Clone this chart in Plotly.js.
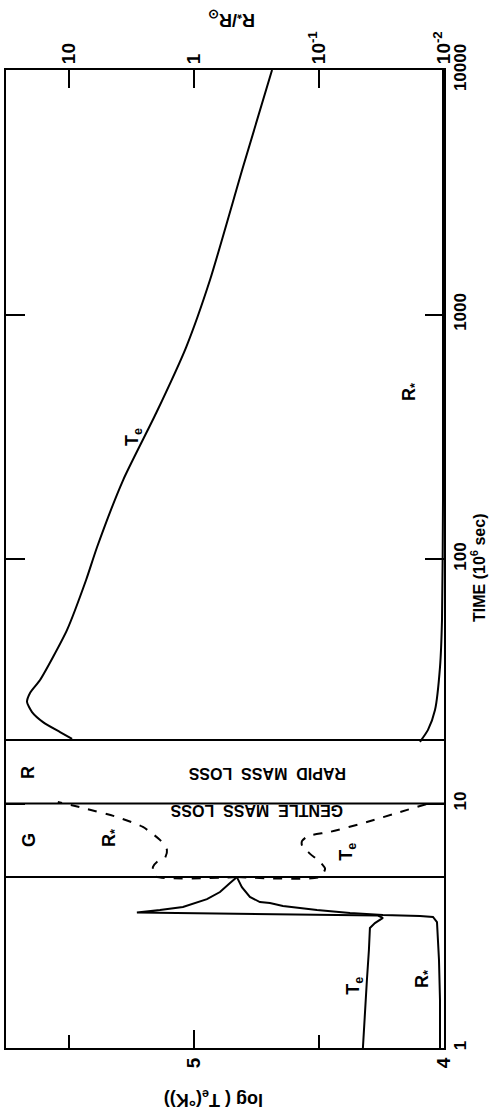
<!DOCTYPE html>
<html>
<head>
<meta charset="utf-8">
<script src="https://cdn.plot.ly/plotly-3.0.1.min.js"></script>
<style>
  html, body { margin: 0; padding: 0; background: #ffffff; }
  #chart { width: 490px; height: 1116px; }
</style>
</head>
<body>
<div id="chart"></div>
<script>
// ---- Data (log10 values) ----
// Early phase (solid): effective temperature
const teEarlyLogTime = [0.000, 0.155, 0.278, 0.401, 0.491, 0.511, 0.532, 0.542, 0.546, 0.550, 0.554, 0.564, 0.577, 0.609, 0.638, 0.675, 0.699];
const teEarlyLogTe   = [4.324, 4.316, 4.308, 4.300, 4.296, 4.276, 4.244, 4.264, 4.575, 4.895, 5.227, 5.135, 5.043, 4.947, 4.895, 4.855, 4.827];
// Early phase (solid): stellar radius
const rEarlyLogTime = [0.000, 0.196, 0.360, 0.483, 0.515, 0.536, 0.540, 0.544, 0.552, 0.564, 0.581, 0.593, 0.597, 0.618, 0.658, 0.699];
const rEarlyLogR    = [-1.968, -1.968, -1.960, -1.952, -1.944, -1.912, -1.808, -1.512, -1.249, -0.985, -0.713, -0.609, -0.529, -0.449, -0.385, -0.345];
// Gentle mass loss phase (dashed)
const teGentleLogTime = [0.699, 0.700, 0.733, 0.761, 0.794, 0.827, 0.847, 0.867, 0.884, 0.924, 0.965, 1.002];
const teGentleLogTe   = [4.827, 4.495, 4.475, 4.495, 4.535, 4.567, 4.567, 4.543, 4.455, 4.308, 4.176, 4.056];
const rGentleLogTime = [0.699, 0.703, 0.740, 0.761, 0.777, 0.810, 0.851, 0.904, 0.945, 0.982, 1.006];
const rGentleLogR    = [-0.345, 0.310, 0.326, 0.294, 0.230, 0.214, 0.270, 0.406, 0.614, 0.886, 1.086];
// Late phase (solid)
const teLateLogTime = [1.264, 1.292, 1.333, 1.374, 1.415, 1.452, 1.505, 1.599, 1.710, 1.914, 2.049, 2.323, 2.597, 2.867, 3.141, 3.603, 4.000];
const teLateLogTe   = [5.486, 5.534, 5.602, 5.646, 5.666, 5.654, 5.614, 5.562, 5.506, 5.430, 5.386, 5.282, 5.150, 5.030, 4.935, 4.803, 4.687];
const rLateLogTime = [1.252, 1.301, 1.382, 1.558, 1.751, 2.241, 4.000];
const rLateLogR    = [-1.808, -1.872, -1.928, -1.968, -1.984, -1.992, -1.992];
// Phase boundaries (time, 10^6 s)
const phaseBoundaries = [5.0, 10, 18.2];
// Axis ticks
const timeTicks = [1, 10, 100, 1000, 10000];
const timeTickLabels = ['1', '10', '100', '1000', '10000'];
const teTicks = [4, 5];
const teTickLabels = ['4', '5'];
const teMinorTicks = [4.5, 5.5];
const rTicks = [1, 0, -1, -2];
const rTickLabels = ['10', '1', '10<sup>-1</sup>', '10<sup>-2</sup>'];

const TE_RANGE = [5.75, 4];
const R_RANGE = [1.5, -2];
const FONT = 'Liberation Sans, Arial, sans-serif';

const toT = a => a.map(v => Math.pow(10, v));
const line = (dash) => ({ color: '#000', width: 2, dash: dash, shape: 'spline', smoothing: 0.6 });

const traces = [
  { x: teEarlyLogTe, y: toT(teEarlyLogTime), xaxis: 'x', yaxis: 'y', mode: 'lines', line: { color: '#000', width: 2 } },
  { x: rEarlyLogR, y: toT(rEarlyLogTime), xaxis: 'x2', yaxis: 'y', mode: 'lines', line: { color: '#000', width: 2 } },
  { x: teGentleLogTe, y: toT(teGentleLogTime), xaxis: 'x', yaxis: 'y', mode: 'lines', line: line('dash') },
  { x: rGentleLogR, y: toT(rGentleLogTime), xaxis: 'x2', yaxis: 'y', mode: 'lines', line: line('dash') },
  { x: teLateLogTe, y: toT(teLateLogTime), xaxis: 'x', yaxis: 'y', mode: 'lines', line: line('solid') },
  { x: rLateLogR, y: toT(rLateLogTime), xaxis: 'x2', yaxis: 'y', mode: 'lines', line: line('solid') }
];
phaseBoundaries.forEach(t => {
  traces.push({ x: TE_RANGE, y: [t, t], xaxis: 'x', yaxis: 'y', mode: 'lines', line: { color: '#000', width: 2 }, hoverinfo: 'skip' });
});

const tickFont = { family: FONT, size: 17, color: '#000', weight: 'bold' };
const labFont = { family: FONT, size: 18, color: '#000', weight: 'bold' };

function ann(text, x, logt, angle, font) {
  return { text: text, x: x, y: logt, xref: 'x', yref: 'y', showarrow: false, textangle: angle,
           xanchor: 'center', yanchor: 'middle', font: font || labFont };
}

const annotations = [
  ann('T<sub>e</sub>', 5.239, 2.499, -90),
  ann('R<sub>*</sub>', 4.136, 2.683, -90),
  ann('R<sub>*</sub>', 4.084, 0.282, -90),
  ann('T<sub>e</sub>', 4.356, 0.254, -90),
  ann('G', 5.658, 0.851, -90),
  ann('R<sub>*</sub>', 5.330, 0.859, -90),
  ann('T<sub>e</sub>', 4.384, 0.802, -90),
  ann('R', 5.662, 1.125, -90),
  ann('GENTLE  MASS  LOSS', 4.747, 0.969, 180, { family: FONT, size: 16, color: '#000', weight: 'bold' }),
  ann('RAPID  MASS  LOSS', 4.707, 1.125, 180, { family: FONT, size: 16, color: '#000', weight: 'bold' }),
  { text: 'log ( T<sub>e</sub>(°K))', xref: 'paper', yref: 'paper', x: 0.4726, y: -0.0511, showarrow: false,
    textangle: 180, xanchor: 'center', yanchor: 'middle', font: labFont },
  { text: 'R<sub>*</sub>/R<sub>⊙</sub>', xref: 'paper', yref: 'paper', x: 0.516, y: 1.0532, showarrow: false,
    textangle: 180, xanchor: 'center', yanchor: 'middle', font: labFont },
  { text: 'TIME (10<sup>6</sup> sec)', xref: 'paper', yref: 'paper', x: 1.0776, y: 0.4918, showarrow: false,
    textangle: -90, xanchor: 'center', yanchor: 'middle', font: { family: FONT, size: 16, color: '#000', weight: 'bold' } }
];

const layout = {
  width: 490, height: 1116,
  margin: { l: 6, r: 46, t: 70, b: 68 },
  paper_bgcolor: '#fff', plot_bgcolor: '#fff',
  showlegend: false,
  xaxis: {
    range: TE_RANGE, type: 'linear', tickmode: 'array', tickvals: teTicks, ticktext: teTickLabels,
    ticks: 'inside', ticklen: 18, tickwidth: 2, tickcolor: '#000', tickangle: -90,
    minor: { tickmode: 'array', tickvals: teMinorTicks, ticks: 'inside', ticklen: 13, tickwidth: 2, tickcolor: '#000' },
    showline: true, linewidth: 2, linecolor: '#000', showgrid: false, zeroline: false,
    tickfont: { family: FONT, size: 19, color: '#000', weight: 'bold' }, fixedrange: true
  },
  xaxis2: {
    range: R_RANGE, type: 'linear', overlaying: 'x', side: 'top', tickmode: 'array', tickvals: rTicks, ticktext: rTickLabels,
    ticks: 'inside', ticklen: 18, tickwidth: 2, tickcolor: '#000', tickangle: -90,
    showline: true, linewidth: 2, linecolor: '#000', showgrid: false, zeroline: false,
    tickfont: { family: FONT, size: 19, color: '#000', weight: 'bold' }, fixedrange: true
  },
  yaxis: {
    type: 'log', range: [0, 4], side: 'right', tickmode: 'array', tickvals: timeTicks, ticktext: timeTickLabels,
    ticks: 'inside', ticklen: 19, tickwidth: 2, tickcolor: '#000', tickangle: -90,
    showline: true, linewidth: 2, linecolor: '#000', mirror: 'ticks', showgrid: false, zeroline: false,
    tickfont: tickFont, fixedrange: true
  },
  annotations: annotations
};

Plotly.newPlot('chart', traces, layout, { displayModeBar: false, staticPlot: true });
</script>
</body>
</html>
